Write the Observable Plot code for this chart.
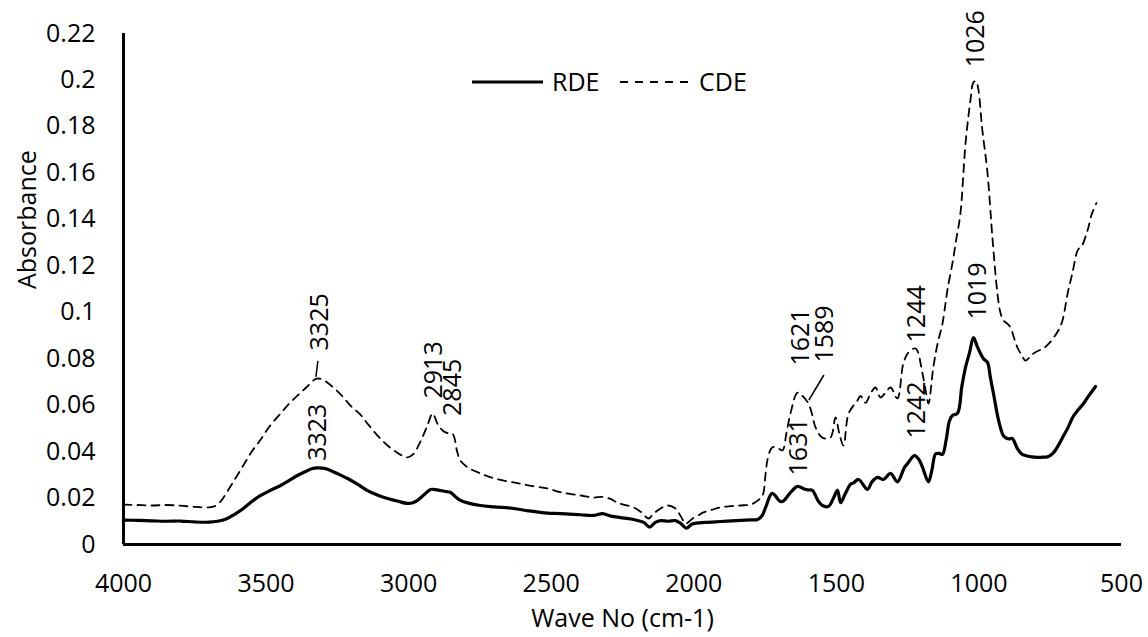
<!DOCTYPE html>
<html>
<head>
<meta charset="utf-8">
<script src="https://cdn.jsdelivr.net/npm/d3@7"></script>
<script src="https://cdn.jsdelivr.net/npm/@observablehq/plot@0.6"></script>
<style>
  html, body { margin: 0; padding: 0; background: #fff; }
  #wrap { position: relative; width: 1148px; height: 637px; font-family: "Open Sans", sans-serif; }
  #legend { position: absolute; left: 460px; top: 60px; overflow: visible; }
</style>
</head>
<body>
<div id="wrap">
  <div id="chart"></div>
  <svg id="legend" width="310" height="44"></svg>
</div>
<script>
// ---- data (wavenumber cm-1, absorbance) ----
const seriesNames = ["RDE", "CDE"];
const xTicks = [4000, 3500, 3000, 2500, 2000, 1500, 1000, 500];
const yTicks = [0, 0.02, 0.04, 0.06, 0.08, 0.1, 0.12, 0.14, 0.16, 0.18, 0.2, 0.22];

const RDE = [
  [4000,0.0105],[3950,0.0104],[3900,0.0102],[3850,0.0100],[3800,0.0101],[3750,0.0097],[3700,0.0096],
  [3670,0.0100],[3640,0.0110],[3610,0.0130],[3580,0.0155],[3550,0.0185],[3520,0.0210],[3490,0.0230],
  [3449,0.0254],[3420,0.0275],[3390,0.0297],[3360,0.0315],[3340,0.0326],[3320,0.0330],[3295,0.0328],
  [3274,0.0319],[3244,0.0302],[3214,0.0284],[3180,0.0260],[3144,0.0232],[3110,0.0213],[3074,0.0198],
  [3040,0.0187],[3004,0.0177],[2985,0.0180],[2969,0.0190],[2945,0.0215],[2923,0.0237],[2900,0.0235],
  [2870,0.0228],[2853,0.0224],[2835,0.0205],[2818,0.0190],[2790,0.0178],[2748,0.0168],[2700,0.0162],
  [2632,0.0155],[2580,0.0145],[2513,0.0135],[2467,0.0133],[2397,0.0128],[2352,0.0125],[2320,0.0133],
  [2290,0.0122],[2257,0.0116],[2220,0.0110],[2197,0.0103],[2175,0.0095],[2155,0.0075],[2135,0.0095],
  [2117,0.0103],[2090,0.0100],[2064,0.0103],[2045,0.0090],[2026,0.0070],[2010,0.0085],[2001,0.0090],
  [1960,0.0095],[1906,0.0099],[1850,0.0103],[1800,0.0106],[1776,0.0108],[1760,0.0125],[1748,0.0160],
  [1725,0.0220],[1696,0.0185],[1685,0.0188],[1660,0.0225],[1636,0.0250],[1615,0.0240],[1600,0.0235],
  [1584,0.0233],[1565,0.0190],[1549,0.0168],[1528,0.0164],[1510,0.0200],[1496,0.0233],[1485,0.0180],
  [1470,0.0215],[1450,0.0260],[1440,0.0265],[1422,0.0280],[1391,0.0237],[1375,0.0270],[1356,0.0289],
  [1335,0.0280],[1310,0.0306],[1286,0.0270],[1262,0.0330],[1250,0.0349],[1226,0.0383],[1210,0.0365],
  [1198,0.0333],[1177,0.0270],[1165,0.0320],[1152,0.0390],[1140,0.0392],[1128,0.0388],[1115,0.0450],
  [1104,0.0530],[1093,0.0556],[1075,0.0565],[1060,0.0680],[1047,0.0763],[1033,0.0826],[1019,0.0891],
  [1005,0.0850],[984,0.0800],[970,0.0784],[960,0.0720],[949,0.0650],[931,0.0534],[915,0.0470],
  [907,0.0460],[895,0.0455],[882,0.0456],[875,0.0440],[865,0.0413],[850,0.0390],[837,0.0383],
  [815,0.0377],[795,0.0375],[775,0.0376],[759,0.0378],[738,0.0396],[720,0.0430],[707,0.0460],
  [689,0.0500],[670,0.0550],[654,0.0577],[633,0.0607],[615,0.0640],[600,0.0665],[591,0.0680]
];

const CDE = [
  [4000,0.0172],[3950,0.0170],[3900,0.0168],[3850,0.0170],[3800,0.0167],[3750,0.0162],[3700,0.0160],
  [3680,0.0165],[3660,0.0185],[3640,0.0220],[3610,0.0280],[3580,0.0340],[3550,0.0400],[3520,0.0450],
  [3490,0.0505],[3449,0.0564],[3420,0.0605],[3390,0.0641],[3360,0.0675],[3325,0.0713],[3305,0.0712],
  [3264,0.0676],[3230,0.0635],[3204,0.0598],[3170,0.0560],[3144,0.0520],[3110,0.0470],[3074,0.0426],
  [3040,0.0395],[3004,0.0375],[2983,0.0390],[2960,0.0440],[2935,0.0510],[2916,0.0564],[2899,0.0520],
  [2880,0.0490],[2860,0.0478],[2845,0.0475],[2830,0.0400],[2818,0.0360],[2790,0.0330],[2748,0.0306],
  [2700,0.0285],[2632,0.0267],[2580,0.0255],[2513,0.0241],[2467,0.0225],[2397,0.0211],[2352,0.0202],
  [2320,0.0205],[2290,0.0195],[2268,0.0180],[2240,0.0170],[2211,0.0160],[2185,0.0140],[2159,0.0112],
  [2140,0.0135],[2127,0.0146],[2110,0.0160],[2092,0.0168],[2064,0.0155],[2045,0.0120],[2029,0.0090],
  [2015,0.0100],[2004,0.0112],[1985,0.0125],[1966,0.0138],[1935,0.0150],[1906,0.0160],[1870,0.0165],
  [1836,0.0168],[1800,0.0172],[1791,0.0177],[1775,0.0190],[1759,0.0210],[1748,0.0306],[1742,0.0362],
  [1730,0.0410],[1720,0.0420],[1705,0.0415],[1689,0.0405],[1675,0.0480],[1661,0.0564],[1636,0.0654],
  [1619,0.0640],[1598,0.0607],[1585,0.0560],[1573,0.0504],[1549,0.0460],[1521,0.0460],[1503,0.0547],
  [1490,0.0480],[1475,0.0426],[1457,0.0564],[1426,0.0620],[1415,0.0640],[1398,0.0610],[1380,0.0650],
  [1363,0.0676],[1345,0.0633],[1330,0.0650],[1310,0.0676],[1286,0.0629],[1265,0.0780],[1247,0.0827],
  [1222,0.0844],[1198,0.0736],[1185,0.0650],[1177,0.0607],[1160,0.0762],[1145,0.0865],[1128,0.0950],
  [1117,0.1040],[1110,0.1100],[1093,0.1210],[1080,0.1310],[1065,0.1425],[1047,0.1726],[1030,0.1910],
  [1019,0.1990],[1010,0.1995],[1002,0.1960],[989,0.1795],[970,0.1600],[952,0.1310],[935,0.1080],
  [925,0.1000],[914,0.0964],[900,0.0950],[889,0.0934],[877,0.0890],[865,0.0848],[850,0.0815],
  [837,0.0792],[823,0.0805],[809,0.0822],[790,0.0835],[774,0.0844],[755,0.0865],[738,0.0890],
  [720,0.0925],[707,0.0964],[689,0.1080],[672,0.1170],[654,0.1266],[645,0.1280],[637,0.1290],
  [625,0.1330],[616,0.1365],[605,0.1420],[588,0.1470]
];

// peak annotations: label text, series, wavenumber of the marked point, absorbance there
const annLabel  = ["3325","3323","2913","2845","1621","1589","1631","1244","1242","1019","1026"];
const annSeries = ["CDE","RDE","CDE","CDE","CDE","CDE","RDE","CDE","RDE","RDE","CDE"];
const annWave   = [3320, 3320, 2916, 2850, 1636, 1598, 1636, 1222, 1226, 1019, 1010];
const annValue  = [0.0715, 0.033, 0.0564, 0.0476, 0.0654, 0.0607, 0.025, 0.0844, 0.0383, 0.0891, 0.199];

// ---- layout (pixel offsets of labels from their point) ----
const annOffset = [[3,-28],[1,-7],[1,-15],[2,-18],[3,-27],[17,-41],[1,-11],[1,-6],[3,-17],[4,-18],[0,-15]];
const leaders = [{i: 0, from: [-1, -1], to: [1, -17]}, {i: 5, from: [1, -3], to: [16, -28]}];

const rows = [
  ...RDE.map(([w, a]) => ({series: "RDE", w, a})),
  ...CDE.map(([w, a]) => ({series: "CDE", w, a}))
];
const ann = annLabel.map((t, i) => ({t, series: annSeries[i], w: annWave[i], a: annValue[i], dx: annOffset[i][0], dy: annOffset[i][1]}));

const FONT = "Open Sans";
const fmtY = d => String(+d.toFixed(2));

const chart = Plot.plot({
  width: 1148,
  height: 637,
  marginLeft: 123,
  marginRight: 27,
  marginTop: 33,
  marginBottom: 93,
  style: {fontFamily: FONT, fontSize: "25px", color: "#000", background: "#fff"},
  x: {domain: [4000, 500], ticks: xTicks, tickFormat: d => String(d), tickSize: 0, tickPadding: 30, label: null},
  y: {domain: [0, 0.22], ticks: yTicks, tickFormat: fmtY, tickSize: 0, tickPadding: 28, label: null},
  marks: [
    Plot.line(rows.filter(d => d.series === "CDE"), {x: "w", y: "a", stroke: "#000", strokeWidth: 1.8, strokeDasharray: "8,6", curve: "catmull-rom"}),
    Plot.line(rows.filter(d => d.series === "RDE"), {x: "w", y: "a", stroke: "#000", strokeWidth: 3.2, curve: "catmull-rom"}),
    Plot.ruleX([4000], {stroke: "#000", strokeWidth: 3}),
    Plot.ruleY([0], {stroke: "#000", strokeWidth: 3}),
    ...ann.map(d => Plot.text([d], {x: "w", y: "a", text: "t", rotate: -90, textAnchor: "start", lineAnchor: "middle", dx: d.dx, dy: d.dy, fontSize: 25, fill: "#000"})),
    (index, scales) => {
      const g = d3.create("svg:g").attr("stroke", "#000").attr("stroke-width", 1.5);
      for (const L of leaders) {
        const d = ann[L.i];
        const px = scales.x(d.w), py = scales.y(d.a);
        g.append("line")
          .attr("x1", px + L.from[0]).attr("y1", py + L.from[1])
          .attr("x2", px + L.to[0]).attr("y2", py + L.to[1]);
      }
      return g.node();
    },
    Plot.text(["Wave No (cm-1)"], {frameAnchor: "bottom", text: d => d, dy: 82, fontSize: 25, fill: "#000"}),
    Plot.text(["Absorbance"], {frameAnchor: "left", text: d => d, dx: -96, rotate: -90, fontSize: 25, fill: "#000"})
  ]
});
document.getElementById("chart").appendChild(chart);

// legend
const lg = d3.select("#legend");
const ly = 22;
lg.append("line").attr("x1", 12).attr("x2", 83).attr("y1", ly).attr("y2", ly).attr("stroke", "#000").attr("stroke-width", 3.2);
lg.append("text").attr("x", 92).attr("y", ly).attr("dy", "0.35em").attr("font-family", FONT).attr("font-size", 25).text(seriesNames[0]);
lg.append("line").attr("x1", 160).attr("x2", 228).attr("y1", ly).attr("y2", ly).attr("stroke", "#000").attr("stroke-width", 1.8).attr("stroke-dasharray", "8,7");
lg.append("text").attr("x", 239).attr("y", ly).attr("dy", "0.35em").attr("font-family", FONT).attr("font-size", 25).text(seriesNames[1]);
</script>
</body>
</html>
